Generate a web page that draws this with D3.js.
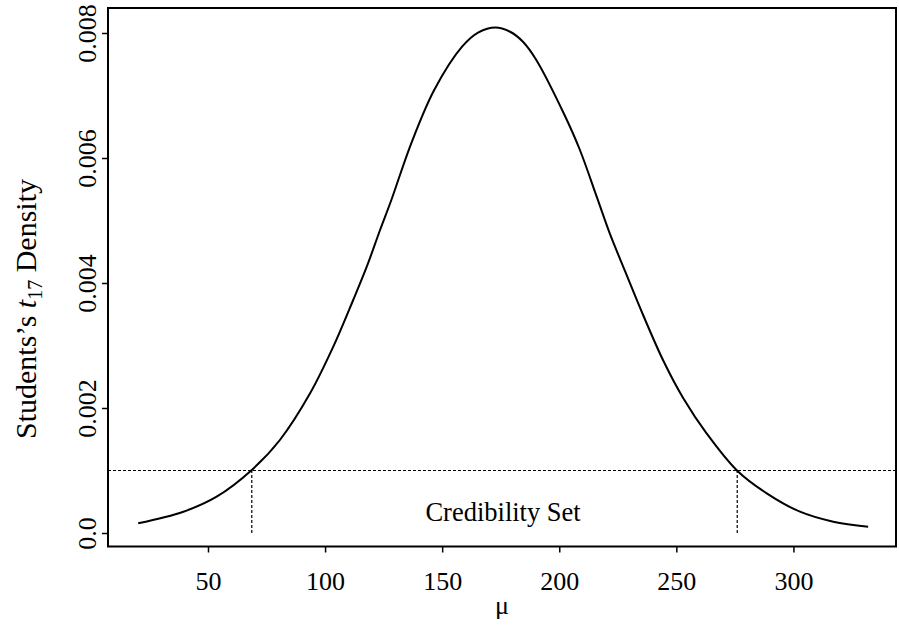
<!DOCTYPE html>
<html>
<head>
<meta charset="utf-8">
<script src="https://cdn.jsdelivr.net/npm/d3@7"></script>
<style>
  body { margin: 0; background: #fff; }
  svg { display: block; font-family: "Liberation Serif", "DejaVu Serif", serif; }
</style>
</head>
<body>
<div id="chart"></div>
<script>
// Posterior density of mu
const muValues = [20.2, 39.5, 53.7, 68.7, 80.7, 93.6, 103.5, 112.0, 117.8, 123.4, 128.3, 136.8,
  146.6, 158.5, 165.5, 172.7, 179.0, 184.5, 190.2, 202.1, 208.7, 216.1, 221.6, 228.1, 235.9,
  244.4, 252.9, 262.9, 276.0, 288.6, 302.8, 317.0, 331.9];
const densityValues = [0.000155, 0.000341, 0.000581, 0.001008, 0.001488, 0.002235, 0.002981,
  0.003728, 0.004261, 0.004840, 0.005328, 0.006235, 0.007088, 0.007781, 0.008010, 0.008088,
  0.008020, 0.007860, 0.007568, 0.006700, 0.006140, 0.005370, 0.004790, 0.004190, 0.003480,
  0.002760, 0.002160, 0.001595, 0.000997, 0.000635, 0.000341, 0.000181, 0.000101];

// cut-off level and the credibility set bounds
const cutLevel = 0.001;
const credBounds = [68.7, 276.0];

const xTicks = [50, 100, 150, 200, 250, 300];
const yTicks = [0, 0.002, 0.004, 0.006, 0.008];
const yTickLabels = ["0.0", "0.002", "0.004", "0.006", "0.008"];

const width = 899, height = 628;
const margin = {top: 8, right: 3, bottom: 81.5, left: 108};

const svg = d3.select("#chart").append("svg")
  .attr("width", width)
  .attr("height", height);

const x = d3.scaleLinear()
  .domain([7.3, 343.8])
  .range([margin.left, width - margin.right]);

const y = d3.scaleLinear()
  .domain([-0.000216, 0.0084])
  .range([height - margin.bottom, margin.top]);

const points = muValues.map((m, i) => [m, densityValues[i]]);

// density curve
const line = d3.line()
  .x(d => x(d[0]))
  .y(d => y(d[1]))
  .curve(d3.curveCatmullRom);

svg.append("path")
  .datum(points)
  .attr("fill", "none")
  .attr("stroke", "#000")
  .attr("stroke-width", 2)
  .attr("d", line);

// dotted cut-off line and bounds
svg.append("line")
  .attr("x1", x.range()[0]).attr("x2", x.range()[1])
  .attr("y1", y(cutLevel)).attr("y2", y(cutLevel))
  .attr("stroke", "#000")
  .attr("stroke-width", 1.2)
  .attr("stroke-dasharray", "3,2");

svg.selectAll(".bound")
  .data(credBounds)
  .join("line")
    .attr("class", "bound")
    .attr("x1", d => x(d)).attr("x2", d => x(d))
    .attr("y1", y(0)).attr("y2", y(cutLevel))
    .attr("stroke", "#000")
    .attr("stroke-width", 1.2)
    .attr("stroke-dasharray", "3,2");

svg.append("text")
  .attr("x", x(176))
  .attr("y", y(0.00019))
  .attr("text-anchor", "middle")
  .attr("font-size", 26.5)
  .text("Credibility Set");

// box
svg.append("rect")
  .attr("x", margin.left)
  .attr("y", margin.top)
  .attr("width", width - margin.left - margin.right)
  .attr("height", height - margin.top - margin.bottom)
  .attr("fill", "none")
  .attr("stroke", "#000")
  .attr("stroke-width", 2);

// axes
const xAxis = svg.append("g")
  .attr("transform", `translate(0,${height - margin.bottom})`)
  .call(d3.axisBottom(x).tickValues(xTicks).tickSize(6).tickPadding(19).tickSizeOuter(0));

const yAxis = svg.append("g")
  .attr("transform", `translate(${margin.left},0)`)
  .call(d3.axisLeft(y).tickValues(yTicks).tickSize(6).tickSizeOuter(0)
    .tickFormat((d, i) => yTickLabels[i]));

[xAxis, yAxis].forEach(g => {
  g.select(".domain").remove();
  g.selectAll(".tick line").attr("stroke-width", 1.5);
  g.selectAll("text")
    .attr("font-family", "Liberation Serif, serif")
    .attr("font-size", 26)
    .attr("fill", "#000");
});

yAxis.selectAll(".tick text")
  .attr("transform", "rotate(-90)")
  .attr("x", 0)
  .attr("y", -12)
  .attr("dy", 0)
  .attr("text-anchor", "middle");

// axis titles
svg.append("text")
  .attr("x", (margin.left + width - margin.right) / 2)
  .attr("y", 614)
  .attr("text-anchor", "middle")
  .attr("font-size", 26)
  .text("\u03bc");

const yTitle = svg.append("text")
  .attr("transform", "translate(36,309) rotate(-90)")
  .attr("text-anchor", "middle")
  .attr("font-size", 30);
yTitle.append("tspan").text("Students\u2019s ");
yTitle.append("tspan").attr("font-style", "italic").text("t");
yTitle.append("tspan").attr("font-size", 20).attr("dy", 6).text("17");
yTitle.append("tspan").attr("dy", -6).text(" Density");
</script>
</body>
</html>
